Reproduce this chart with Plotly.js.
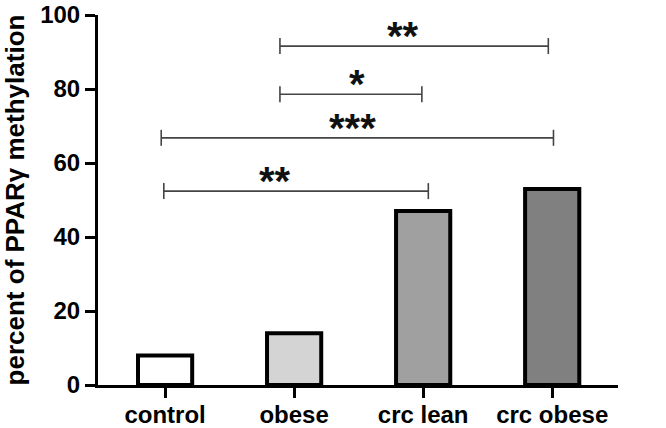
<!DOCTYPE html>
<html>
<head>
<meta charset="utf-8">
<script src="https://cdn.plot.ly/plotly-3.0.1.min.js"></script>
<style>
  body { margin: 0; background: #fff; }
  #chart { width: 666px; height: 428px; }
</style>
</head>
<body>
<div id="chart"></div>
<script>
// PPARγ methylation by group
const groups = ["control", "obese", "crc lean", "crc obese"];
const methylation = [8, 14, 47, 53];
const barColors = ["#ffffff", "#d4d4d4", "#a0a0a0", "#808080"];

// significance brackets (x in category units)
const bracketStart = [0.89, 0.89, -0.03, -0.01];
const bracketEnd = [2.97, 1.99, 3.01, 2.04];
const bracketLevel = [91.6, 78.6, 66.8, 52.4];
const bracketStars = ["**", "*", "***", "**"];
const starX = [1.84, 1.49, 1.45, 0.85];

const shapes = [];
const annotations = [];
bracketLevel.forEach((y, i) => {
  const line = { color: "#444", width: 1.6 };
  shapes.push({ type: "line", xref: "x", yref: "y", x0: bracketStart[i], x1: bracketEnd[i], y0: y, y1: y, line });
  [bracketStart[i], bracketEnd[i]].forEach(x => {
    shapes.push({ type: "line", xref: "x", yref: "y", ysizemode: "pixel", yanchor: y,
      x0: x, x1: x, y0: -8, y1: 8, line });
  });
  annotations.push({
    x: starX[i], y: y, xref: "x", yref: "y", text: bracketStars[i], showarrow: false,
    yanchor: "middle", yshift: 10,
    font: { family: "Liberation Sans, Arial", size: 40, color: "#111", weight: "bold" }
  });
});

Plotly.newPlot("chart", [{
  x: groups,
  y: methylation,
  type: "bar",
  width: 0.42,
  marker: { color: barColors, line: { color: "#000", width: 4 } },
  hoverinfo: "x+y"
}], {
  width: 666,
  height: 428,
  margin: { l: 98, r: 48, t: 15, b: 43 },
  paper_bgcolor: "#fff",
  plot_bgcolor: "#fff",
  showlegend: false,
  font: { family: "Liberation Sans, Arial", color: "#000", size: 24, weight: "bold" },
  xaxis: {
    range: [-0.52, 3.51],
    showline: true, linecolor: "#000", linewidth: 3,
    ticks: "outside", ticklen: 10, tickwidth: 3, tickcolor: "#000",
    tickfont: { size: 24, weight: "bold" },
    ticklabelstandoff: -4,
    showgrid: false, zeroline: false
  },
  yaxis: {
    range: [0, 100],
    tickvals: [0, 20, 40, 60, 80, 100],
    showline: true, linecolor: "#000", linewidth: 3,
    ticks: "outside", ticklen: 10, tickwidth: 3, tickcolor: "#000",
    tickfont: { size: 24, weight: "bold" },
    showgrid: false, zeroline: false,
    title: { text: "percent of PPARγ methylation", font: { size: 26, weight: "bold" }, standoff: 10 }
  },
  shapes,
  annotations
}, { displayModeBar: false });
</script>
</body>
</html>
